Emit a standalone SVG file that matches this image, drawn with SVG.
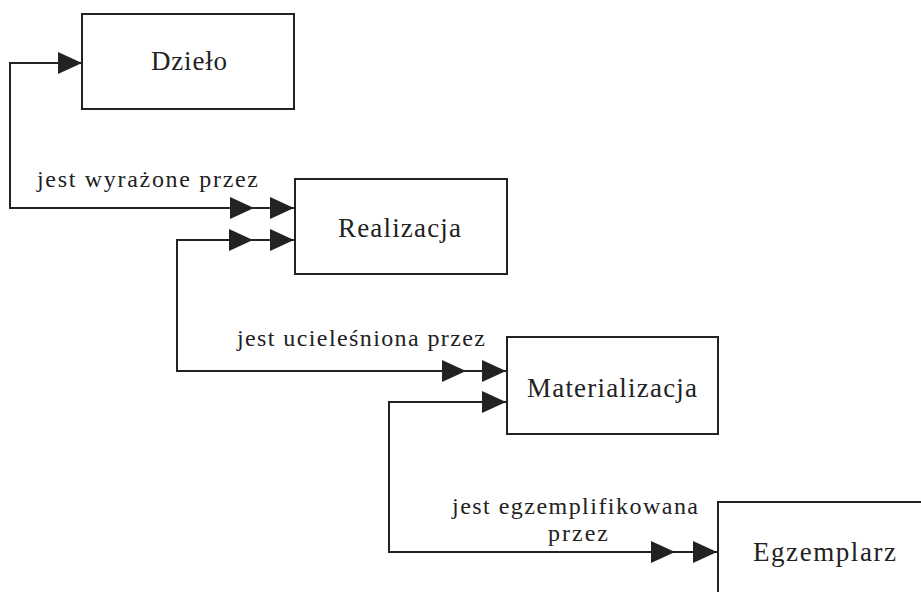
<svg xmlns="http://www.w3.org/2000/svg" xmlns:xlink="http://www.w3.org/1999/xlink" width="921" height="592" viewBox="0 0 921 592">
<style>
.box{fill:#fff;stroke:#222;stroke-width:2}
.line{fill:none;stroke:#222;stroke-width:2}
.ah{fill:#222}
.t{font-family:"Liberation Serif","Times New Roman",serif;fill:#222}
.nt{font-size:27px}
.lt{font-size:24px}
</style>
<defs>
<path id="ah" class="ah" d="M0,0 L-24,-11 L-24,11 Z"/>
</defs>
<rect width="921" height="592" fill="#fff"/>
<g id="connectors">
<path class="line" d="M82,63 H10 V208 H295"/>
<use href="#ah" xlink:href="#ah" x="82" y="63"/>
<use href="#ah" xlink:href="#ah" x="254" y="208"/>
<use href="#ah" xlink:href="#ah" x="294" y="208"/>
<path class="line" d="M295,240 H177 V371 H507"/>
<use href="#ah" xlink:href="#ah" x="253" y="240"/>
<use href="#ah" xlink:href="#ah" x="294" y="240"/>
<use href="#ah" xlink:href="#ah" x="466" y="371"/>
<use href="#ah" xlink:href="#ah" x="506" y="371"/>
<path class="line" d="M507,402 H389 V552 H718"/>
<use href="#ah" xlink:href="#ah" x="506" y="402"/>
<use href="#ah" xlink:href="#ah" x="675" y="552"/>
<use href="#ah" xlink:href="#ah" x="717" y="552"/>
<text class="t lt" x="37" y="187" textLength="221" lengthAdjust="spacing">jest wyrażone przez</text>
<text class="t lt" x="237" y="346" textLength="248" lengthAdjust="spacing">jest ucieleśniona przez</text>
<text class="t lt" x="452" y="514" textLength="246" lengthAdjust="spacing">jest egzemplifikowana</text>
<text class="t lt" x="548" y="541" textLength="60" lengthAdjust="spacing">przez</text>
</g>
<g id="dzielo">
<rect class="box" x="82" y="14" width="212" height="95"/>
<text class="t nt" x="151" y="70" textLength="76" lengthAdjust="spacing">Dzieło</text>
</g>
<g id="realizacja">
<rect class="box" x="295" y="179" width="212" height="95"/>
<text class="t nt" x="338" y="237" textLength="123" lengthAdjust="spacing">Realizacja</text>
</g>
<g id="materializacja">
<rect class="box" x="507" y="337" width="211" height="97"/>
<text class="t nt" x="527" y="397" textLength="170" lengthAdjust="spacing">Materializacja</text>
</g>
<g id="egzemplarz">
<rect class="box" x="718" y="502" width="240" height="120"/>
<text class="t nt" x="753" y="561" textLength="143" lengthAdjust="spacing">Egzemplarz</text>
</g>
</svg>
